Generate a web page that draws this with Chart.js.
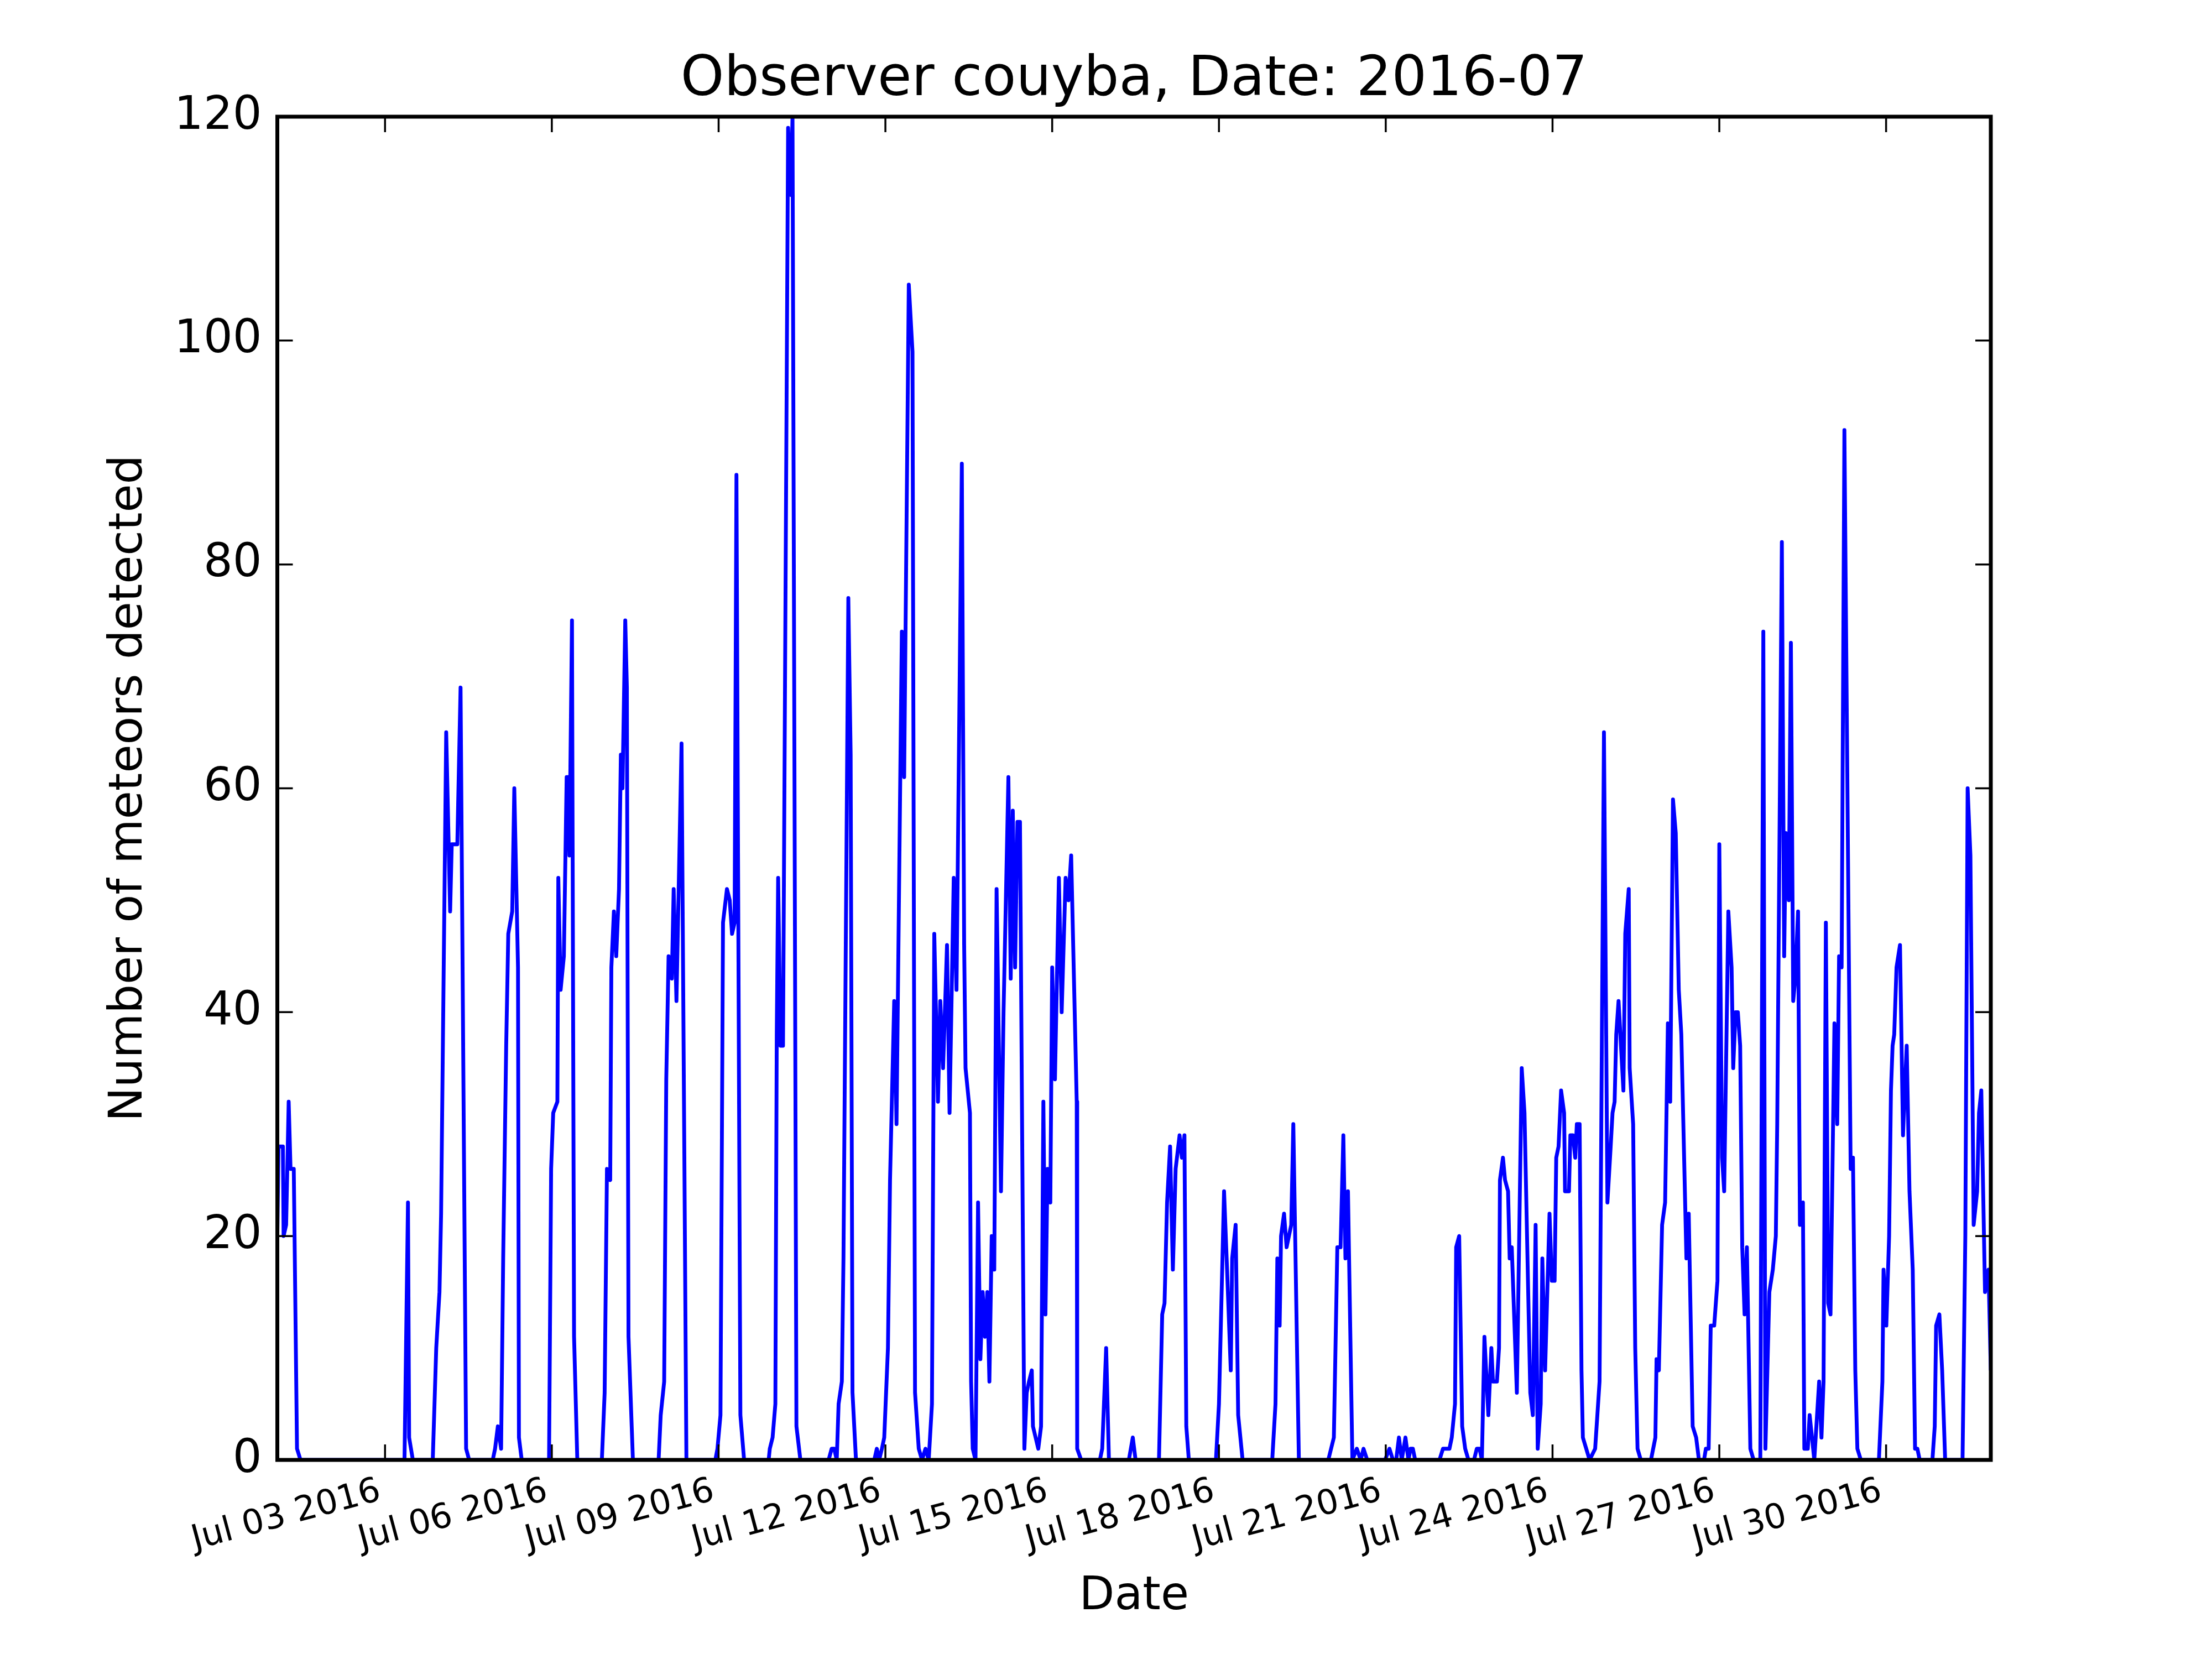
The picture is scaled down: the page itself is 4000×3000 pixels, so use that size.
<!DOCTYPE html>
<html>
<head>
<meta charset="utf-8">
<title>Observer couyba, Date: 2016-07</title>
<script src="https://cdn.jsdelivr.net/npm/chart.js@4.4.0/dist/chart.umd.min.js"></script>
<style>
  html, body { margin: 0; padding: 0; background: #ffffff; }
  canvas { display: block; }
</style>
</head>
<body>
<canvas id="meteor-chart" width="4000" height="3000" style="width:4000px;height:3000px"></canvas>
<script>
var hours = [
  1.5, 2.0, 3.9, 4.2, 5.3, 6.4, 7.2, 8.6, 10.0, 11.5,
  56.4, 57.9, 58.4, 60.0,
  68.6, 70.1, 71.5, 72.2, 74.4, 76.1, 76.8, 79.2, 80.6, 83.0, 84.3,
  94.5, 95.5, 96.7, 98.1, 99.0, 100.3, 101.2, 102.9, 103.8, 105.4, 105.8, 107.0,
  118.8, 119.7, 120.6, 122.4, 122.8, 123.8, 125.2, 126.4, 127.0, 127.6, 128.7, 129.6, 131.0,
  141.6, 142.8, 143.8, 145.2, 145.7, 146.8, 147.8, 149.0, 149.8, 150.5, 151.7, 152.4, 153.1, 155.0,
  166.1, 167.0, 168.5, 169.4, 170.4, 171.8, 172.6, 173.8, 176.0, 178.1,
  190.6, 191.5, 192.8, 193.9, 195.6, 196.8, 197.8, 198.9, 199.7, 201.4, 203.0,
  213.6, 214.1, 215.3, 216.5, 217.1, 217.7, 218.7, 219.8, 222.0, 223.2, 223.9, 225.6, 227.3,
  239.5, 240.8, 241.9, 243.0, 243.8, 245.2, 245.9, 248.0, 249.0, 249.8, 251.3,
  259.2, 260.3, 261.3, 262.5, 263.5, 265.1, 266.0, 267.8, 268.8, 271.1, 272.1, 274.1, 275.7, 276.8,
  278.4, 279.8, 281.3, 282.7, 284.1, 285.1, 286.7, 287.7, 288.9, 290.6, 291.7, 293.5, 294.7, 297.0,
  298.0, 298.6, 300.5, 301.0, 301.7, 302.9,
  304.0, 305.0, 306.0, 307.0, 308.0, 308.9, 309.9, 311.0, 312.0, 313.9, 315.0, 317.1, 318.1, 319.0,
  320.0, 321.0, 322.1, 324.0, 325.0, 326.0, 327.2, 327.7, 330.0, 331.2, 332.2, 333.1, 334.0, 335.2,
  336.0, 337.2, 338.9, 340.1, 341.8, 343.0, 344.2, 346.6, 346.8, 348.5,
  356.6, 357.6, 359.3, 360.5,
  369.1, 370.8, 372.0,
  382.1, 383.5, 384.5, 385.6, 386.9, 388.1, 389.3, 391.0, 392.0, 393.1, 393.9, 395.0,
  406.7, 408.0, 410.2, 411.5, 413.1, 413.7, 415.2, 416.3, 418.2,
  431.0, 432.4, 433.2, 434.2, 434.8, 436.1, 437.2, 439.2, 440.1, 442.5,
  455.2, 457.6, 459.1, 460.5, 461.7, 462.6, 463.7, 465.6, 467.5, 469.2, 470.4, 472.0,
  479.7, 481.6, 483.1, 484.5, 485.7, 486.9, 488.5, 489.8, 490.7, 491.7, 492.7,
  503.2, 504.7, 507.5, 508.5, 509.9, 510.4, 511.7, 513.0, 514.3, 515.7,
  518.1, 519.3, 520.5, 521.5, 522.6, 524.3, 525.6, 526.3, 528.0, 528.9, 529.3, 530.6, 531.5, 532.8,
  533.5, 534.4, 536.6, 538.7, 539.9, 542.4, 543.5, 544.7, 545.6, 546.9, 547.6, 548.8, 550.7, 551.7,
  552.9, 553.6, 554.6, 555.7, 557.0, 557.4, 559.1, 559.7, 560.8, 561.8, 562.5, 563.7, 564.5, 565.1,
  568.0, 570.4, 572.3, 574.2, 575.7, 577.1, 577.9, 578.8, 579.5, 580.5, 582.6, 583.4, 584.9, 585.3,
  586.8, 587.7, 588.7, 590.1,
  594.5, 596.4, 596.9, 597.9, 599.3, 600.6, 601.8, 602.8, 604.0, 605.2, 606.5, 607.6, 609.8, 610.8,
  612.5, 614.0, 615.2, 617.4, 618.2, 619.4, 620.3, 621.8, 623.2, 624.0, 625.2, 626.1, 627.9, 629.3,
  630.0, 631.0, 632.0, 633.0, 633.9, 634.9, 635.9, 637.4, 638.8, 641.7, 643.0, 643.9, 645.6, 647.1,
  648.4, 649.0, 651.0, 652.0, 652.7, 654.0, 654.9, 655.9, 656.8, 658.0, 658.8, 660.1, 660.7, 662.2,
  663.0, 665.0, 667.1, 668.1, 669.0, 670.0, 671.0, 672.0, 673.7, 674.9, 675.7, 676.8, 678.0, 680.7,
  681.7, 682.7, 683.6, 685.1, 692.9, 694.4, 694.9, 696.1, 697.3, 698.1, 698.8, 699.5, 700.5, 702.0,
  703.3, 704.9, 706.1, 707.5, 708.5, 709.5, 710.5, 716.0, 717.0, 717.6, 719.0, 720.2, 721.5,
  729.0, 730.2, 731.2, 732.4, 733.8, 735.3, 736.1, 737.1, 738.7, 740.2, 741.2
];
var counts = [
  20, 28, 28, 20, 21, 32, 26, 26, 1, 0,
  0, 23, 2, 0,
  0, 10, 15, 22, 65, 49, 55, 55, 69, 1, 0,
  0, 1, 3, 1, 18, 37, 47, 49, 60, 44, 2, 0,
  0, 26, 31, 32, 52, 42, 45, 61, 61, 54, 75, 11, 0,
  0, 6, 26, 25, 44, 49, 45, 51, 63, 60, 75, 69, 11, 0,
  0, 4, 7, 34, 45, 43, 51, 41, 64, 0,
  0, 1, 4, 48, 51, 50, 47, 48, 88, 4, 0,
  0, 1, 2, 5, 38, 52, 37, 37, 119, 113, 120, 3, 0,
  0, 1, 1, 0, 5, 7, 18, 77, 63, 6, 0,
  0, 1, 0, 1, 2, 10, 25, 41, 30, 74, 61, 105, 99, 6,
  1, 0, 1, 0, 5, 47, 32, 41, 35, 46, 31, 52, 42, 89,
  46, 35, 31, 7, 1, 0,
  23, 9, 15, 11, 15, 7, 20, 17, 51, 24, 40, 61, 43, 58,
  44, 57, 57, 1, 6, 7, 8, 3, 1, 3, 32, 13, 26, 23,
  44, 34, 52, 40, 52, 50, 54, 32, 1, 0,
  0, 1, 10, 0,
  0, 2, 0,
  0, 13, 14, 23, 28, 17, 26, 29, 27, 29, 3, 0,
  0, 5, 24, 17, 8, 18, 21, 4, 0,
  0, 5, 18, 12, 20, 22, 19, 21, 30, 0,
  0, 2, 19, 19, 29, 18, 24, 0, 1, 0, 1, 0,
  0, 1, 0, 0, 2, 0, 2, 0, 1, 1, 0,
  0, 1, 1, 2, 5, 19, 20, 3, 1, 0,
  0, 1, 1, 0, 11, 4, 10, 7, 7, 10, 25, 27, 25, 24,
  18, 19, 6, 35, 31, 6, 4, 21, 1, 5, 18, 8, 22, 16,
  16, 27, 28, 33, 31, 24, 24, 29, 29, 27, 30, 30, 8, 2,
  0, 1, 7, 65, 23, 28, 31, 32, 38, 41, 33, 47, 51, 35,
  30, 10, 1, 0,
  0, 2, 9, 8, 21, 23, 39, 32, 59, 56, 42, 38, 18, 22,
  3, 2, 0, 0, 1, 1, 12, 12, 16, 55, 27, 24, 49, 44,
  35, 40, 40, 37, 19, 13, 19, 1, 0, 0, 74, 1, 15, 17,
  20, 30, 82, 45, 56, 50, 73, 41, 43, 49, 21, 23, 1, 1,
  4, 0, 7, 2, 7, 48, 14, 13, 39, 30, 45, 44, 92, 26,
  27, 8, 1, 0, 0, 7, 17, 12, 20, 33, 37, 38, 44, 46,
  29, 37, 24, 17, 1, 1, 0, 0, 3, 12, 13, 8, 0,
  0, 20, 60, 54, 21, 24, 31, 33, 15, 17, 8
];

// date ticks every three days, starting Jul 03
var tickHours = [48, 120, 192, 264, 336, 408, 480, 552, 624, 696];
var tickLabels = ['Jul 03 2016', 'Jul 06 2016', 'Jul 09 2016', 'Jul 12 2016', 'Jul 15 2016',
  'Jul 18 2016', 'Jul 21 2016', 'Jul 24 2016', 'Jul 27 2016', 'Jul 30 2016'];
var yTicks = [0, 20, 40, 60, 80, 100, 120];

var FONT = "'DejaVu Sans', 'Liberation Sans', sans-serif";

// matplotlib style box: spines all round, ticks pointing inward on every side
var boxTicks = {
  id: 'boxTicks',
  afterDatasetsDraw: function(chart) {
    var ctx = chart.ctx;
    var area = chart.chartArea;
    var xs = chart.scales.x;
    var ys = chart.scales.y;
    var len = 28;
    ctx.save();
    ctx.strokeStyle = '#000000';
    ctx.lineWidth = 3.5;
    ctx.beginPath();
    tickHours.forEach(function(h) {
      var px = xs.getPixelForValue(h);
      ctx.moveTo(px, area.bottom);
      ctx.lineTo(px, area.bottom - len);
      ctx.moveTo(px, area.top);
      ctx.lineTo(px, area.top + len);
    });
    yTicks.forEach(function(v) {
      var py = ys.getPixelForValue(v);
      ctx.moveTo(area.left, py);
      ctx.lineTo(area.left + len, py);
      ctx.moveTo(area.right, py);
      ctx.lineTo(area.right - len, py);
    });
    ctx.stroke();
    ctx.lineWidth = 7;
    ctx.strokeRect(area.left, area.top, area.right - area.left, area.bottom - area.top);
    ctx.restore();
  }
};

var points = hours.map(function(h, i) {
  return {x: h, y: counts[i]};
});

new Chart(document.getElementById('meteor-chart'), {
  type: 'line',
  data: {
    datasets: [{
      data: points,
      borderColor: '#0000ff',
      borderWidth: 6.9,
      borderJoinStyle: 'round',
      pointRadius: 0,
      tension: 0,
      fill: false
    }]
  },
  options: {
    responsive: false,
    animation: false,
    devicePixelRatio: 1,
    layout: {
      padding: {left: 0, right: 400, top: 0, bottom: 0}
    },
    plugins: {
      legend: {display: false},
      tooltip: {enabled: false},
      title: {
        display: true,
        text: 'Observer couyba, Date: 2016-07',
        color: '#000000',
        fullSize: false,
        font: {family: FONT, size: 100, weight: 'normal'},
        padding: {top: 86, bottom: 5}
      }
    },
    scales: {
      x: {
        type: 'linear',
        min: hours[0],
        max: hours[hours.length - 1],
        grid: {display: false, drawTicks: false},
        border: {display: false},
        afterBuildTicks: function(scale) {
          scale.ticks = tickHours.map(function(v) { return {value: v}; });
        },
        afterFit: function(scale) {
          scale.height = 360;
        },
        ticks: {
          autoSkip: false,
          maxRotation: 15,
          minRotation: 15,
          padding: 20,
          labelOffset: -9,
          color: '#000000',
          font: {family: FONT, size: 62},
          callback: function(value) {
            var i = tickHours.indexOf(value);
            return i >= 0 ? tickLabels[i] : '';
          }
        },
        title: {
          display: true,
          text: 'Date',
          color: '#000000',
          font: {family: FONT, size: 83},
          padding: {top: 0, bottom: 62}
        }
      },
      y: {
        min: 0,
        max: 120,
        grid: {display: false, drawTicks: false},
        border: {display: false},
        afterBuildTicks: function(scale) {
          scale.ticks = yTicks.map(function(v) { return {value: v}; });
        },
        afterFit: function(scale) {
          scale.width = 501.5;
        },
        ticks: {
          padding: 28,
          color: '#000000',
          font: {family: FONT, size: 83}
        },
        title: {
          display: true,
          text: 'Number of meteors detected',
          color: '#000000',
          font: {family: FONT, size: 83},
          padding: {top: 185, bottom: 0}
        }
      }
    }
  },
  plugins: [boxTicks]
});
</script>
</body>
</html>
